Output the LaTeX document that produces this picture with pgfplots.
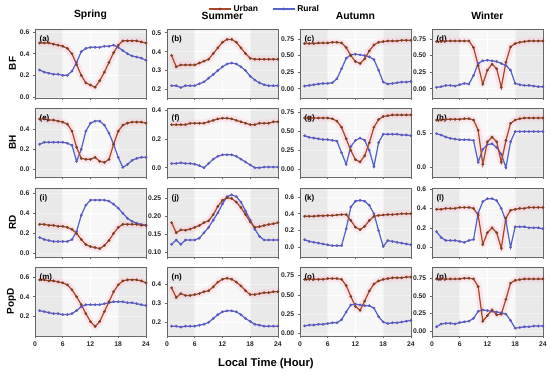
\documentclass[border=0pt]{standalone}
\usepackage{fontspec}
\setmainfont{Liberation Sans}
\usepackage{pgfplots}
\usepackage{pgfplotstable}
\pgfplotsset{compat=1.18}
\definecolor{urbanline}{RGB}{168,72,38}
\definecolor{urbanmark}{RGB}{120,62,35}
\definecolor{ruralline}{RGB}{82,100,200}
\definecolor{ruralmark}{RGB}{96,86,190}
\definecolor{ribboncol}{RGB}{255,185,205}
\definecolor{framegray}{RGB}{105,105,105}

\pgfplotstableread{
h u r
1 0.50 0.25
2 0.50 0.23
3 0.50 0.22
4 0.49 0.21
5 0.48 0.21
6 0.47 0.20
7 0.45 0.20
8 0.40 0.24
9 0.30 0.32
10 0.20 0.42
11 0.13 0.45
12 0.11 0.46
13 0.09 0.46
14 0.15 0.46
15 0.23 0.47
16 0.32 0.47
17 0.41 0.48
18 0.48 0.46
19 0.52 0.43
20 0.52 0.40
21 0.52 0.38
22 0.52 0.37
23 0.51 0.36
24 0.50 0.34
}\tA
\pgfplotstableread{
h u r
1 0.38 0.22
2 0.32 0.22
3 0.33 0.21
4 0.33 0.22
5 0.33 0.22
6 0.33 0.22
7 0.34 0.23
8 0.35 0.24
9 0.36 0.26
10 0.39 0.28
11 0.42 0.30
12 0.45 0.32
13 0.465 0.335
14 0.465 0.34
15 0.45 0.335
16 0.42 0.32
17 0.39 0.30
18 0.365 0.27
19 0.36 0.25
20 0.36 0.235
21 0.36 0.225
22 0.36 0.22
23 0.36 0.22
24 0.36 0.22
}\tB
\pgfplotstableread{
h u r
1 0.68 0.04
2 0.68 0.05
3 0.68 0.06
4 0.69 0.07
5 0.69 0.08
6 0.69 0.08
7 0.70 0.09
8 0.70 0.15
9 0.69 0.30
10 0.62 0.46
11 0.50 0.51
12 0.41 0.52
13 0.38 0.51
14 0.45 0.50
15 0.57 0.48
16 0.66 0.44
17 0.70 0.28
18 0.71 0.10
19 0.72 0.07
20 0.72 0.08
21 0.72 0.09
22 0.73 0.10
23 0.73 0.10
24 0.73 0.11
}\tC
\pgfplotstableread{
h u r
1 0.71 0.02
2 0.71 0.03
3 0.72 0.05
4 0.72 0.05
5 0.72 0.04
6 0.72 0.06
7 0.72 0.08
8 0.72 0.07
9 0.62 0.20
10 0.35 0.38
11 0.07 0.42
12 0.28 0.43
13 0.37 0.42
14 0.30 0.41
15 0.02 0.38
16 0.40 0.35
17 0.63 0.28
18 0.68 0.08
19 0.70 0.06
20 0.71 0.05
21 0.72 0.05
22 0.72 0.04
23 0.72 0.03
24 0.72 0.03
}\tD
\pgfplotstableread{
h u r
1 0.50 0.25
2 0.50 0.27
3 0.49 0.27
4 0.49 0.27
5 0.48 0.27
6 0.47 0.27
7 0.45 0.26
8 0.38 0.24
9 0.22 0.08
10 0.11 0.20
11 0.10 0.38
12 0.10 0.46
13 0.12 0.48
14 0.08 0.48
15 0.07 0.44
16 0.10 0.36
17 0.25 0.25
18 0.38 0.12
19 0.44 0.02
20 0.46 0.05
21 0.47 0.09
22 0.47 0.11
23 0.47 0.12
24 0.46 0.12
}\tE
\pgfplotstableread{
h u r
1 0.30 0.03
2 0.30 0.03
3 0.30 0.035
4 0.30 0.03
5 0.31 0.03
6 0.31 0.025
7 0.31 0.015
8 0.31 0.00
9 0.32 0.03
10 0.33 0.06
11 0.34 0.08
12 0.345 0.09
13 0.345 0.09
14 0.34 0.09
15 0.33 0.08
16 0.32 0.06
17 0.31 0.04
18 0.30 0.02
19 0.30 0.00
20 0.31 0.00
21 0.31 0.005
22 0.31 0.005
23 0.32 0.005
24 0.32 0.005
}\tF
\pgfplotstableread{
h u r
1 0.67 0.44
2 0.67 0.42
3 0.67 0.41
4 0.67 0.40
5 0.67 0.39
6 0.67 0.39
7 0.66 0.38
8 0.63 0.37
9 0.55 0.22
10 0.40 0.07
11 0.25 0.30
12 0.13 0.38
13 0.10 0.41
14 0.18 0.38
15 0.35 0.25
16 0.55 0.04
17 0.65 0.35
18 0.69 0.46
19 0.70 0.46
20 0.71 0.46
21 0.71 0.46
22 0.71 0.45
23 0.71 0.45
24 0.71 0.44
}\tG
\pgfplotstableread{
h u r
1 0.70 0.50
2 0.70 0.48
3 0.71 0.45
4 0.71 0.43
5 0.71 0.42
6 0.71 0.41
7 0.72 0.41
8 0.72 0.41
9 0.70 0.40
10 0.55 0.08
11 0.05 0.27
12 0.38 0.34
13 0.45 0.35
14 0.38 0.30
15 0.08 0.20
16 0.40 0.00
17 0.65 0.38
18 0.70 0.53
19 0.72 0.53
20 0.73 0.53
21 0.73 0.53
22 0.73 0.53
23 0.73 0.53
24 0.73 0.53
}\tH
\pgfplotstableread{
h u r
1 0.29 0.16
2 0.29 0.14
3 0.28 0.13
4 0.28 0.12
5 0.27 0.12
6 0.27 0.12
7 0.26 0.12
8 0.24 0.14
9 0.20 0.22
10 0.14 0.38
11 0.09 0.48
12 0.07 0.53
13 0.06 0.53
14 0.05 0.53
15 0.08 0.53
16 0.13 0.52
17 0.20 0.49
18 0.26 0.45
19 0.29 0.40
20 0.29 0.35
21 0.29 0.32
22 0.29 0.30
23 0.28 0.29
24 0.28 0.28
}\tI
\pgfplotstableread{
h u r
1 0.183 0.123
2 0.155 0.135
3 0.163 0.123
4 0.162 0.135
5 0.165 0.135
6 0.170 0.135
7 0.175 0.140
8 0.183 0.155
9 0.188 0.170
10 0.205 0.190
11 0.228 0.210
12 0.245 0.235
13 0.252 0.255
14 0.250 0.260
15 0.240 0.255
16 0.225 0.240
17 0.205 0.215
18 0.185 0.190
19 0.170 0.165
20 0.172 0.145
21 0.175 0.135
22 0.178 0.135
23 0.180 0.135
24 0.183 0.135
}\tJ
\pgfplotstableread{
h u r
1 0.37 0.09
2 0.37 0.07
3 0.37 0.06
4 0.375 0.05
5 0.375 0.04
6 0.38 0.03
7 0.38 0.02
8 0.385 0.02
9 0.39 0.02
10 0.39 0.22
11 0.32 0.48
12 0.24 0.55
13 0.21 0.56
14 0.25 0.55
15 0.32 0.50
16 0.37 0.40
17 0.38 0.20
18 0.385 0.01
19 0.39 0.08
20 0.39 0.07
21 0.395 0.06
22 0.40 0.05
23 0.40 0.04
24 0.40 0.03
}\tK
\pgfplotstableread{
h u r
1 0.39 0.16
2 0.39 0.10
3 0.40 0.07
4 0.40 0.07
5 0.40 0.07
6 0.41 0.06
7 0.41 0.05
8 0.41 0.07
9 0.40 0.08
10 0.33 0.35
11 0.03 0.47
12 0.15 0.50
13 0.20 0.50
14 0.15 0.48
15 -0.01 0.40
16 0.30 0.27
17 0.38 0.00
18 0.39 0.21
19 0.40 0.21
20 0.40 0.21
21 0.41 0.20
22 0.41 0.20
23 0.41 0.20
24 0.41 0.19
}\tL
\pgfplotstableread{
h u r
1 0.57 0.26
2 0.57 0.25
3 0.56 0.24
4 0.56 0.23
5 0.55 0.23
6 0.54 0.22
7 0.52 0.22
8 0.47 0.23
9 0.40 0.26
10 0.32 0.30
11 0.23 0.32
12 0.15 0.32
13 0.10 0.32
14 0.15 0.32
15 0.25 0.33
16 0.35 0.34
17 0.45 0.35
18 0.52 0.35
19 0.56 0.35
20 0.57 0.34
21 0.57 0.34
22 0.57 0.33
23 0.56 0.32
24 0.54 0.31
}\tM
\pgfplotstableread{
h u r
1 0.38 0.18
2 0.33 0.18
3 0.35 0.175
4 0.34 0.18
5 0.34 0.18
6 0.345 0.18
7 0.35 0.185
8 0.36 0.19
9 0.365 0.20
10 0.385 0.22
11 0.41 0.24
12 0.425 0.255
13 0.43 0.26
14 0.425 0.26
15 0.41 0.255
16 0.39 0.24
17 0.365 0.22
18 0.345 0.205
19 0.345 0.19
20 0.35 0.185
21 0.355 0.18
22 0.355 0.18
23 0.36 0.18
24 0.36 0.18
}\tN
\pgfplotstableread{
h u r
1 0.70 0.10
2 0.70 0.11
3 0.70 0.11
4 0.70 0.12
5 0.70 0.12
6 0.71 0.13
7 0.71 0.14
8 0.71 0.14
9 0.70 0.18
10 0.62 0.28
11 0.48 0.37
12 0.35 0.38
13 0.30 0.37
14 0.42 0.36
15 0.55 0.36
16 0.64 0.33
17 0.68 0.22
18 0.70 0.15
19 0.71 0.13
20 0.72 0.14
21 0.72 0.14
22 0.72 0.15
23 0.73 0.16
24 0.73 0.17
}\tO
\pgfplotstableread{
h u r
1 0.74 0.06
2 0.74 0.10
3 0.74 0.11
4 0.74 0.11
5 0.74 0.10
6 0.74 0.12
7 0.75 0.13
8 0.75 0.14
9 0.74 0.18
10 0.63 0.28
11 0.14 0.30
12 0.22 0.29
13 0.30 0.28
14 0.23 0.27
15 0.24 0.26
16 0.45 0.24
17 0.68 0.15
18 0.72 0.04
19 0.73 0.05
20 0.74 0.06
21 0.74 0.06
22 0.74 0.07
23 0.74 0.07
24 0.74 0.07
}\tP

\newcommand{\tickfont}{\bfseries\fontsize{6.8}{7.5}\selectfont}
\pgfplotsset{
  panel/.style={
    scale only axis, width=111bp, height=69bp, anchor=north west,
    xmin=0, xmax=24, xtick={0,6,12,18,24}, xticklabels={},
    tick align=outside, tick pos=left, major tick length=2.2bp,
    axis line style={framegray, line width=0.7pt},
    tick style={framegray, line width=0.6pt},
    axis background/.style={fill=black!3},
    ymajorgrids, xmajorgrids, grid style={white, line width=0.6pt},
    yticklabel style={font=\tickfont, text=black!85},
    xticklabel style={font=\tickfont, text=black!85},
    ylabel style={font=\bfseries\fontsize{10}{12}\selectfont, at={(axis description cs:-0.14,0.5)}, anchor=south},
    title style={font=\bfseries\fontsize{10.4}{12}\selectfont, at={(axis description cs:0.5,1)}, anchor=south},
  },
  bottomrow/.style={xticklabels={0,6,12,18,24}},
  urb/.style={urbanline, line width=1.25pt, mark=*, mark size=1.3pt, mark options={fill=urbanmark, draw=urbanmark, line width=0.2pt}},
  rur/.style={ruralline, line width=1.25pt, mark=*, mark size=1.3pt, mark options={fill=ruralmark, draw=ruralmark, line width=0.2pt}},
  rib/.style={ribboncol, line width=7bp, opacity=0.3, forget plot, line join=round},
  ticksA/.style={ytick={0,0.2,0.4,0.6}, yticklabels={0.0,0.2,0.4,0.6}},
  ticksQ/.style={ytick={0,0.25,0.5,0.75}, yticklabels={0.00,0.25,0.50,0.75}},
  legimg/.style={legend image code/.code={\draw[mark repeat=2,mark phase=2,##1] plot coordinates {(0bp,0bp) (11bp,0bp) (22bp,0bp)};}},
  legopts/.style={legend entries={Rural,Urban}, reverse legend, legend columns=2,
    legend style={draw=none, fill=none, at={(axis description cs:0.88,1.29)}, anchor=center, font=\bfseries\fontsize{8.5}{10}\selectfont, /tikz/every even column/.append style={column sep=12bp}}, legimg},
}

% #1 x, #2 y, #3 table, #4 letter, #5 options
\newcommand{\panel}[5]{%
\begin{axis}[panel, at={(#1bp,-#2bp)}, #5]
\fill[black, opacity=0.055] (rel axis cs:0,0) rectangle (rel axis cs:0.25,1);
\fill[black, opacity=0.055] (rel axis cs:0.75,0) rectangle (rel axis cs:1,1);
\addplot[rib] table[x=h,y=u] {#3};
\addplot[rur] table[x=h,y=r] {#3};
\addplot[urb] table[x=h,y=u] {#3};
\node[anchor=north west, inner sep=0pt, font=\bfseries\fontsize{8}{9}\selectfont] at (axis description cs:0.04,0.91) {(#4)};
\end{axis}}

\begin{document}
\begin{tikzpicture}[x=1bp,y=1bp]
\path (0,0) rectangle (550,-374);
% row 1
\panel{35}{29}{\tA}{a}{ymin=-0.01, ymax=0.63, ticksA, ylabel={BF}, title={Spring}}
\panel{167}{29}{\tB}{b}{ymin=0.155, ymax=0.52, ytick={0.2,0.3,0.4,0.5}, yticklabels={0.2,0.3,0.4,0.5}, title={Summer}, legopts}
\panel{300}{29}{\tC}{c}{ymin=-0.14, ymax=0.90, ticksQ, title={Autumn}}
\panel{432}{29}{\tD}{d}{ymin=-0.14, ymax=0.90, ticksQ, title={Winter}}
% row 2
\panel{35}{108}{\tE}{e}{ymin=-0.075, ymax=0.61, ytick={0,0.2,0.4}, yticklabels={0.0,0.2,0.4}, ylabel={BH}}
\panel{167}{108}{\tF}{f}{ymin=-0.064, ymax=0.416, ytick={0,0.2,0.4}, yticklabels={0.0,0.2,0.4}}
\panel{300}{108}{\tG}{g}{ymin=-0.095, ymax=0.80, ticksQ}
\panel{432}{108}{\tH}{h}{ymin=-0.137, ymax=0.877, ytick={0,0.5}, yticklabels={0.0,0.5}}
% row 3
\panel{35}{188}{\tI}{i}{ymin=-0.033, ymax=0.65, ticksA, ylabel={RD}}
\panel{167}{188}{\tJ}{j}{ymin=0.088, ymax=0.279, ytick={0.10,0.15,0.20,0.25}, yticklabels={0.10,0.15,0.20,0.25}}
\panel{300}{188}{\tK}{k}{ymin=-0.115, ymax=0.707, ticksA}
\panel{432}{188}{\tL}{l}{ymin=-0.10, ymax=0.61, ticksA}
% row 4
\panel{35}{267}{\tM}{m}{ymin=0.005, ymax=0.70, ytick={0.2,0.4,0.6}, yticklabels={0.2,0.4,0.6}, ylabel={PopD}, bottomrow}
\panel{167}{267}{\tN}{n}{ymin=0.129, ymax=0.489, ytick={0.2,0.3,0.4}, yticklabels={0.2,0.3,0.4}, bottomrow}
\panel{300}{267}{\tO}{o}{ymin=-0.03, ymax=0.86, ticksQ, bottomrow}
\panel{432}{267}{\tP}{p}{ymin=-0.07, ymax=0.91, ticksQ, bottomrow}
\node[font=\bfseries\fontsize{11.3}{13}\selectfont] at (266,-364) {Local Time (Hour)};
\end{tikzpicture}
\end{document}
